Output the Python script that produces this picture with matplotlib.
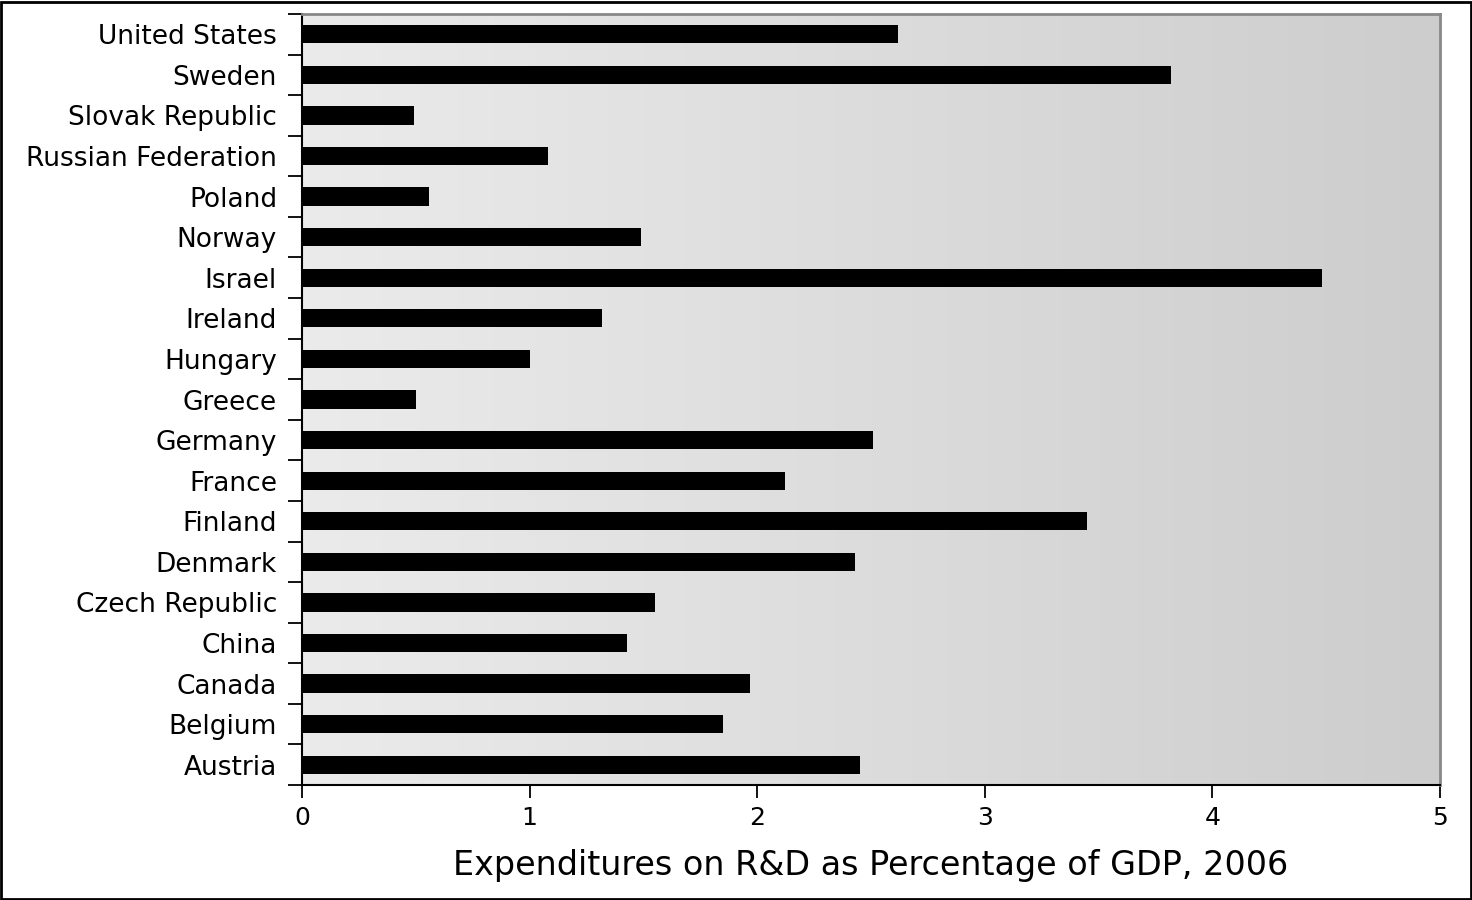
import numpy as np
import matplotlib.pyplot as plt
from matplotlib.patches import Rectangle

countries = ['Austria', 'Belgium', 'Canada', 'China', 'Czech Republic', 'Denmark',
             'Finland', 'France', 'Germany', 'Greece', 'Hungary', 'Ireland',
             'Israel', 'Norway', 'Poland', 'Russian Federation', 'Slovak Republic',
             'Sweden', 'United States']
rd_pct = [2.45, 1.85, 1.97, 1.43, 1.55, 2.43,
          3.45, 2.12, 2.51, 0.50, 1.00, 1.32,
          4.48, 1.49, 0.56, 1.08, 0.49,
          3.82, 2.62]
x_ticks = [0, 1, 2, 3, 4, 5]

fig = plt.figure(figsize=(14.72, 9.0), dpi=100)
ax = fig.add_axes([302 / 1472, 1 - 785 / 900, (1440 - 302) / 1472, (785 - 14) / 900])

# gradient background, light left -> darker right
grad = np.linspace(0, 1, 256).reshape(1, -1)
ax.imshow(grad, extent=[0, 1, 0, 1], transform=ax.transAxes, aspect='auto',
          cmap=plt.matplotlib.colors.LinearSegmentedColormap.from_list('g', ['#ebebeb', '#cdcdcd']),
          zorder=0)

y = np.arange(len(countries))
ax.barh(y, rd_pct, height=0.45, color='black', zorder=2)

ax.set_xlim(0, 5)
ax.set_ylim(-0.5, len(countries) - 0.5)
ax.set_xticks(x_ticks)
ax.set_xticklabels([str(t) for t in x_ticks], fontsize=18)

# labels centred on bars, tick marks between bars
ax.set_yticks(np.arange(-0.5, len(countries), 1.0))
ax.set_yticklabels([])
ax.set_yticks(y, minor=True)
ax.set_yticklabels(countries, minor=True, fontsize=19)
ax.tick_params(axis='y', which='minor', length=0, pad=18)
ax.tick_params(axis='y', which='major', length=10, width=1.3, direction='out')
ax.tick_params(axis='x', length=9, width=1.3, direction='out', pad=6)

ax.set_xlabel('Expenditures on R&D as Percentage of GDP, 2006', fontsize=24, labelpad=14)

for s in ['left', 'bottom']:
    ax.spines[s].set_color('black')
    ax.spines[s].set_linewidth(1.5)
for s in ['top', 'right']:
    ax.spines[s].set_color('#888888')
    ax.spines[s].set_linewidth(2)

# frame around the whole figure
fig.patches.append(Rectangle((0.001, 0.001), 0.998, 0.997, transform=fig.transFigure,
                             fill=False, edgecolor='black', linewidth=2))

plt.savefig('out.png', dpi=100)
plt.close()
